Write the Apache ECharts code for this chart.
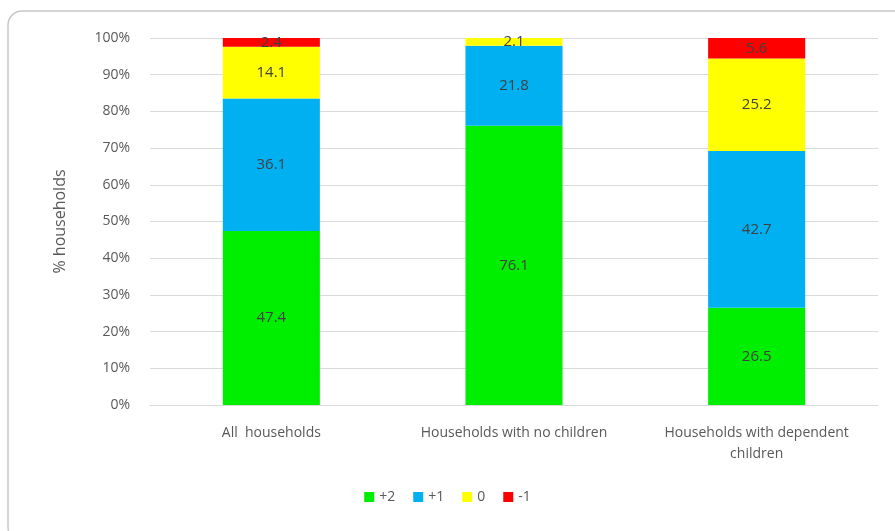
<!DOCTYPE html>
<html>
<head>
<meta charset="utf-8">
<script src="https://cdn.jsdelivr.net/npm/echarts@6/dist/echarts.min.js"></script>
<style>
html,body{margin:0;padding:0;background:#fff;}
#chart{width:895px;height:531px;}
</style>
</head>
<body>
<div id="chart"></div>
<script>
var categories = ['All  households', 'Households with no children', 'Households with dependent\nchildren'];
var plus2 = [47.4, 76.1, 26.5];
var plus1 = [36.1, 21.8, 42.7];
var zero = [14.1, 2.1, 25.2];
var minus1 = [2.4, 0, 5.6];
var yTicks = [0, 10, 20, 30, 40, 50, 60, 70, 80, 90, 100];

var seriesNames = ['+2', '+1', '0', '-1'];
var seriesData = [plus2, plus1, zero, minus1];
var colors = ['#00ee00', '#00b0f0', '#ffff00', '#ff0000'];

function makeSeries(i) {
	return {
		name: seriesNames[i],
		type: 'bar',
		stack: 'total',
		barWidth: '40%',
		data: seriesData[i],
		itemStyle: {color: colors[i]},
		label: {
			show: true,
			position: 'inside',
			color: '#404040',
			fontSize: 15,
			fontFamily: 'Open Sans',
			formatter: function (p) {
				return p.value === 0 ? '' : p.value.toFixed(1);
			}
		}
	};
}

var myChart = echarts.init(document.getElementById('chart'));
var option = {
	animation: false,
	graphic: [{
		type: 'rect',
		shape: {x: 8, y: 11, width: 900, height: 530, r: 14},
		style: {fill: 'none', stroke: '#c8c8c8', lineWidth: 1.5},
		silent: true
	}],
	grid: {left: 150, right: 17, top: 38, bottom: 126},
	legend: {
		bottom: 22,
		left: 'center',
		itemWidth: 10,
		itemHeight: 10,
		itemGap: 18,
		icon: 'rect',
		textStyle: {color: '#595959', fontSize: 14, fontFamily: 'Open Sans'},
		data: seriesNames
	},
	xAxis: {
		type: 'category',
		data: categories,
		axisTick: {show: false},
		axisLine: {lineStyle: {color: '#d9d9d9'}},
		axisLabel: {color: '#595959', fontSize: 14, fontFamily: 'Open Sans', margin: 18, interval: 0, lineHeight: 21}
	},
	yAxis: {
		type: 'value',
		min: 0,
		max: 100,
		interval: 10,
		name: '% households',
		nameLocation: 'middle',
		nameGap: 82,
		nameTextStyle: {color: '#595959', fontSize: 16, fontFamily: 'Open Sans'},
		axisLabel: {
			color: '#595959', fontSize: 14, fontFamily: 'Open Sans', margin: 20,
			formatter: function (v) { return yTicks.indexOf(v) >= 0 ? v + '%' : ''; }
		},
		splitLine: {lineStyle: {color: '#d9d9d9'}}
	},
	series: [makeSeries(0), makeSeries(1), makeSeries(2), makeSeries(3)]
};
myChart.setOption(option);
</script>
</body>
</html>
